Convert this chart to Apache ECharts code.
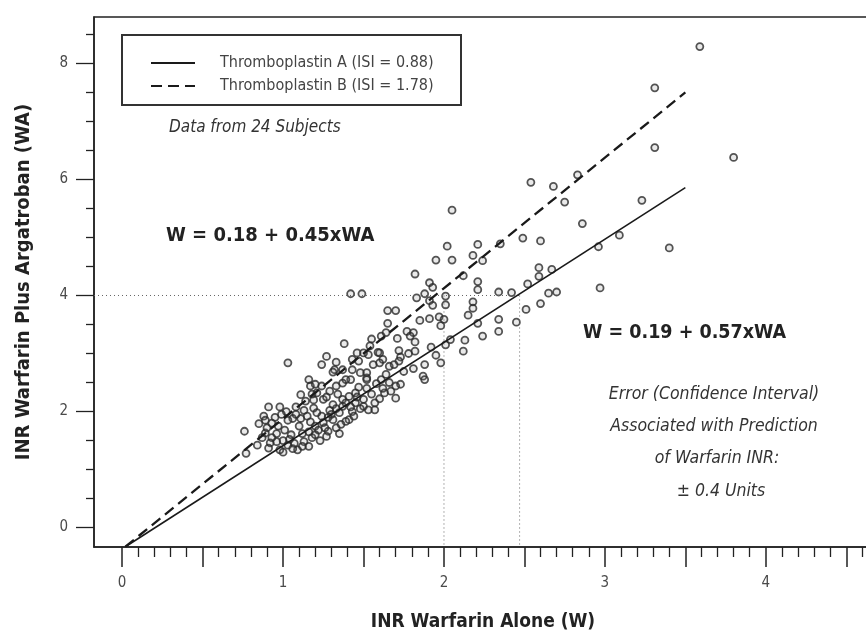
<!DOCTYPE html>
<html><head><meta charset="utf-8">
<script src="https://cdn.jsdelivr.net/npm/echarts@6/dist/echarts.min.js"></script>
<style>html,body{margin:0;padding:0;background:#fff}#c{width:866px;height:630px}</style>
</head><body><div id="c"></div>
<script>
const FONT = "'Liberation Sans Narrow','DejaVu Sans Condensed','Arial Narrow',sans-serif";

// axis ranges and ticks
const xRange = [-0.175, 4.66];
const yRange = [-0.335, 8.8];
const xMajorTicks = [0, 0.5, 1, 1.5, 2, 2.5, 3, 3.5, 4, 4.5];
const xMinorTicks = [0.1,0.2,0.3,0.4,0.6,0.7,0.8,0.9,1.1,1.2,1.3,1.4,1.6,1.7,1.8,1.9,2.1,2.2,2.3,2.4,2.6,2.7,2.8,2.9,3.1,3.2,3.3,3.4,3.6,3.7,3.8,3.9,4.1,4.2,4.3,4.4,4.6];
const xTickLabels = [0, 1, 2, 3, 4];
const yMajorTicks = [0, 2, 4, 6, 8];
const yMinorTicks = [0.5,1,1.5,2.5,3,3.5,4.5,5,5.5,6.5,7,7.5,8.5];
const yTickLabels = [0, 2, 4, 6, 8];

// series names
const nameA = 'Thromboplastin A (ISI = 0.88)';
const nameB = 'Thromboplastin B (ISI = 1.78)';

// regression lines (W, WA)
const lineA = [[0.02, -0.33], [3.5, 5.86]];
const lineB = [[0.02, -0.33], [3.5, 7.5]];

// dotted guide lines
const guideH = [[-0.175, 4], [2.47, 4]];
const guideV1 = [[2, 4], [2, -0.335]];
const guideV2 = [[2.47, 4], [2.47, -0.335]];

// scatter points [INR warfarin alone, INR warfarin + argatroban]
const pointsUpper = [
[3.59,8.29],[3.31,7.58],[3.31,6.55],[3.80,6.38],[2.05,5.47],[2.54,5.95],[2.68,5.88],[2.83,6.08],[2.75,5.61],[3.23,5.64],
[2.86,5.24],[3.09,5.04],[2.96,4.84],[3.40,4.82],[2.97,4.13],[2.49,4.99],[2.60,4.94],[2.35,4.89],[2.21,4.88],[2.02,4.85],
[2.18,4.69],[2.24,4.60],[1.95,4.61],[2.05,4.61],[2.12,4.34],[1.82,4.37],[1.91,4.22],[1.93,4.14],[1.42,4.03],[1.49,4.03],
[1.83,3.96],[1.88,4.03],[2.01,3.99],[2.21,4.10],[2.21,4.24],[1.91,3.91],[1.93,3.83],[2.01,3.84],[2.18,3.89],[2.18,3.78],
[2.15,3.66],[2.59,4.48],[2.67,4.45],[2.59,4.33],[2.52,4.20],[2.34,4.06],[2.42,4.05],[2.65,4.04],[2.70,4.06],[2.60,3.86],
[2.51,3.76],[2.34,3.59],[2.45,3.54],[2.34,3.38],[2.24,3.30],[2.21,3.52]
];
const pointsMiddle = [
[1.65,3.74],[1.70,3.74],[1.65,3.52],[1.85,3.57],[1.91,3.60],[1.97,3.63],[2.00,3.59],[1.98,3.48],[1.77,3.38],[1.81,3.36],
[1.79,3.30],[1.82,3.20],[1.64,3.36],[1.61,3.30],[1.55,3.25],[1.71,3.26],[1.38,3.17],[2.13,3.23],[2.12,3.04],[2.01,3.15],
[2.04,3.24],[1.92,3.11],[1.95,2.97],[1.98,2.84],[1.88,2.81],[1.87,2.61],[1.72,3.05],[1.78,3.00],[1.82,3.04],[1.73,2.94],
[1.60,3.01],[1.62,2.90],[1.66,2.78],[1.60,2.84],[1.72,2.87],[1.75,2.69],[1.81,2.74],[1.73,2.47],[1.70,2.44],[1.64,2.64],
[1.61,2.55],[1.69,2.81],[1.56,2.81],[1.52,2.67],[1.54,3.13],[1.53,2.98],[1.46,3.01],[1.43,2.90],[1.50,3.01],[1.33,2.85],
[1.27,2.95],[1.24,2.81],[1.03,2.84],[1.32,2.72],[1.37,2.72],[1.47,2.87],[1.59,3.02],[1.48,2.67],[1.52,2.58],[1.42,2.55],
[1.43,2.72],[1.39,2.55],[1.31,2.68],[1.16,2.55],[1.17,2.44],[1.24,2.44],[1.29,2.35],[1.33,2.44],[1.37,2.49],[1.20,2.47],
[1.52,2.55],[1.88,2.55],[1.63,2.32],[1.70,2.23],[1.57,2.03]
];
const pointsCluster = [
[0.76,1.66],[0.77,1.28],[0.91,2.08],[0.98,2.08],[0.85,1.79],[0.84,1.42],[0.89,1.63],[0.93,1.55],[0.92,1.46],[0.91,1.37],
[1.08,1.95],[1.09,1.34],[0.98,1.34],[1.00,1.30],[1.14,2.18],[1.11,2.29],[1.19,2.06],[1.21,1.98],[1.20,1.75],[1.25,1.81],
[1.28,1.66],[1.27,1.57],[1.31,1.86],[1.35,1.98],[1.33,1.72],[1.37,2.21],[1.41,2.26],[1.45,2.32],[1.50,2.21],[1.50,2.09],
[1.53,2.03],[1.41,1.86],[1.37,2.09],[1.21,2.32],[1.25,2.21],[1.39,1.83],[0.95,1.90],[0.97,1.75],[0.96,1.62],[1.00,1.50],
[1.03,1.42],[1.05,1.60],[1.06,1.88],[1.10,1.75],[1.12,1.62],[1.13,1.48],[1.15,1.92],[1.02,2.00],[0.88,1.92],[0.90,1.72],
[0.87,1.55],[1.03,1.85],[1.08,2.08],[1.16,1.40],[1.18,1.55],[1.22,1.68],[1.24,1.92],[1.29,2.02],[1.31,2.12],[1.27,2.25],
[1.19,2.20],[1.35,1.62],[1.43,2.00],[1.45,2.15],[1.47,2.42],[1.55,2.30],[1.57,2.15],[1.60,2.22],[1.62,2.40],[1.58,2.48],
[1.66,2.50],[1.67,2.35],[1.44,1.92],[1.48,2.05],
[0.93,1.80],[0.99,1.95],[1.01,1.68],[1.04,1.52],[1.07,1.45],[1.11,1.88],[1.13,2.02],[1.17,1.82],[1.16,1.65],[1.23,1.50],
[1.26,1.72],[1.30,1.95],[1.33,2.05],[1.36,1.78],[1.39,2.15],[1.42,2.08],[1.46,2.25],[1.52,2.40],[0.96,1.48],[1.06,1.36],
[1.12,1.40],[1.20,1.60],[1.28,1.90],[0.89,1.85],[1.18,2.30],[1.34,2.30]
];

const allPoints = pointsUpper.concat(pointsMiddle, pointsCluster);

const chart = echarts.init(document.getElementById('c'), null, {renderer: 'canvas'});
const axisCol = '#222';
const labelStyle = {fontFamily: FONT, fontSize: 15, color: '#4a4a4a'};

const option = {
  backgroundColor: '#fff',
  animation: false,
  grid: {left: 94, right: -6, top: 17, bottom: 83, outerBoundsMode: 'none', containLabel: false,
         show: true, borderColor: axisCol, borderWidth: 1.5, backgroundColor: 'transparent'},
  legend: {
    data: [nameA, nameB], orient: 'vertical', left: 145, top: 50,
    itemWidth: 44, itemHeight: 12, itemGap: 7,
    itemStyle: {opacity: 0},
    textStyle: {fontFamily: FONT, fontSize: 16, color: '#444', padding: [0, 0, 0, 20]}
  },
  xAxis: [{
    type: 'value', min: xRange[0], max: xRange[1],
    name: 'INR Warfarin Alone (W)', nameLocation: 'middle', nameGap: 66,
    nameTextStyle: {fontFamily: FONT, fontSize: 19, fontWeight: 'bold', color: '#222'},
    axisLine: {show: true, onZero: false, lineStyle: {color: axisCol, width: 1.5}},
    axisTick: {show: true, inside: false, length: 20, customValues: xMajorTicks, lineStyle: {color: axisCol, width: 1.5}},
    axisLabel: {show: true, customValues: xTickLabels, margin: 29, ...labelStyle},
    splitLine: {show: false}
  }, {
    type: 'value', min: xRange[0], max: xRange[1], position: 'bottom',
    axisLine: {show: false, onZero: false},
    axisTick: {show: true, inside: false, length: 10, customValues: xMinorTicks, lineStyle: {color: axisCol, width: 1.3}},
    axisLabel: {show: false}, splitLine: {show: false}
  }],
  yAxis: [{
    type: 'value', min: yRange[0], max: yRange[1],
    name: 'INR Warfarin Plus Argatroban (WA)', nameLocation: 'middle', nameGap: 60, nameRotate: 90,
    nameTextStyle: {fontFamily: FONT, fontSize: 20, fontWeight: 'bold', color: '#222'},
    axisLine: {show: true, onZero: false, lineStyle: {color: axisCol, width: 1.5}},
    axisTick: {show: true, inside: false, length: 18, customValues: yMajorTicks, lineStyle: {color: axisCol, width: 1.3}},
    axisLabel: {show: true, customValues: yTickLabels, margin: 26, ...labelStyle},
    splitLine: {show: false}
  }, {
    type: 'value', min: yRange[0], max: yRange[1], position: 'left',
    axisLine: {show: false, onZero: false},
    axisTick: {show: true, inside: false, length: 8, customValues: yMinorTicks, lineStyle: {color: axisCol, width: 1.3}},
    axisLabel: {show: false}, splitLine: {show: false}
  }],
  series: [
    {name: 'guideH', type: 'line', data: guideH, symbol: 'none', silent: true, lineStyle: {color: '#666', width: 1, type: [1, 3]}},
    {name: 'guideV1', type: 'line', data: guideV1, symbol: 'none', silent: true, lineStyle: {color: '#666', width: 1, type: [1, 3]}},
    {name: 'guideV2', type: 'line', data: guideV2, symbol: 'none', silent: true, lineStyle: {color: '#666', width: 1, type: [1, 3]}},
    {name: nameA, type: 'line', data: lineA, symbol: 'none', lineStyle: {color: '#1a1a1a', width: 1.6, type: 'solid'}, itemStyle: {color: '#1a1a1a'}},
    {name: nameB, type: 'line', data: lineB, symbol: 'none', lineStyle: {color: '#1a1a1a', width: 2.3, type: [11, 6]}, itemStyle: {color: '#1a1a1a'}},
    {name: 'Subjects', type: 'scatter', data: allPoints, symbol: 'circle', symbolSize: 7,
     itemStyle: {color: 'rgba(110,110,110,0.18)', borderColor: '#2b2b2b', borderWidth: 1.8}}
  ],
  graphic: [
    {type: 'rect', shape: {x: 122, y: 35, width: 339, height: 70}, style: {fill: 'none', stroke: '#333', lineWidth: 2}, silent: true},
    {type: 'text', x: 169, y: 128, style: {text: 'Data from 24 Subjects', font: 'italic 17px ' + FONT, fill: '#333', align: 'left', verticalAlign: 'middle'}},
    {type: 'text', x: 166, y: 236, style: {text: 'W = 0.18 + 0.45xWA', font: 'bold 20px ' + FONT, fill: '#222', align: 'left', verticalAlign: 'middle'}},
    {type: 'text', x: 583, y: 333, style: {text: 'W = 0.19 + 0.57xWA', font: 'bold 19.5px ' + FONT, fill: '#222', align: 'left', verticalAlign: 'middle'}},
    {type: 'text', x: 714, y: 394, style: {text: 'Error (Confidence Interval)', font: 'italic 17.5px ' + FONT, fill: '#333', align: 'center', verticalAlign: 'middle'}},
    {type: 'text', x: 714, y: 426, style: {text: 'Associated with Prediction', font: 'italic 17.5px ' + FONT, fill: '#333', align: 'center', verticalAlign: 'middle'}},
    {type: 'text', x: 717, y: 458, style: {text: 'of Warfarin INR:', font: 'italic 17.5px ' + FONT, fill: '#333', align: 'center', verticalAlign: 'middle'}},
    {type: 'text', x: 721, y: 491, style: {text: '± 0.4 Units', font: 'italic 17.5px ' + FONT, fill: '#333', align: 'center', verticalAlign: 'middle'}}
  ]
};
chart.setOption(option);
</script></body></html>
